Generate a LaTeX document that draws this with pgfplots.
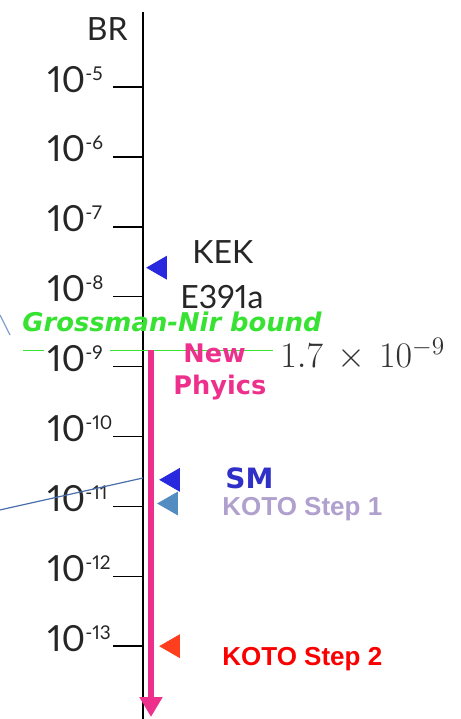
\RequirePackage{fix-cm}
\documentclass[border=0pt]{standalone}
\usepackage{fontspec}
\setmainfont{Lato}[Numbers={Proportional,Lining}]
\newfontfamily\dvsans{DejaVu Sans}
\newfontfamily\lsans{Liberation Sans}
\usepackage{pgfplots}
\pgfplotsset{compat=1.18}
\usetikzlibrary{arrows.meta}

\definecolor{nppink}{RGB}{236,48,140}
\definecolor{gnbound}{RGB}{55,226,50}
\definecolor{kekblue}{RGB}{40,40,222}
\definecolor{smblue}{RGB}{48,48,200}
\definecolor{kotoone}{RGB}{82,140,192}
\definecolor{kotoonetxt}{RGB}{176,160,206}
\definecolor{kototwo}{RGB}{255,62,30}
\definecolor{kototwotxt}{RGB}{250,0,0}
\definecolor{guide}{RGB}{72,110,170}
\definecolor{guidelight}{RGB}{130,160,205}
\definecolor{valgray}{RGB}{50,50,50}

% decade label: 10 with a small raised exponent
\newcommand\dec[1]{10\raisebox{6pt}{\fontsize{9.5}{9.5}\selectfont -#1}}

\begin{document}
\begin{tikzpicture}
\begin{axis}[
  name=ax,
  scale only axis,
  width=230.5pt, height=353.5pt,
  xmin=-143, xmax=318,
  ymode=log, ymin=9.08e-15, ymax=1.183e-4,
  axis x line=none,
  axis y line=center,
  y axis line style={-, line width=0.75pt, black},
  ytick={1e-13,1e-12,1e-11,1e-10,1e-9,1e-8,1e-7,1e-6,1e-5},
  yticklabels={\dec{13},\dec{12},\dec{11},\dec{10},\dec{9},\dec{8},\dec{7},\dec{6},\dec{5}},
  yminorticks=false,
  tick align=outside,
  major tick length=15pt,
  every major tick/.append style={line width=0.75pt, black},
  yticklabel style={anchor=base west, xshift=-33pt, yshift=-2.5pt, inner sep=0pt,
    font=\fontsize{18}{18}\selectfont, text=black!85},
  clip=false,
]
% thin guide lines on the left
\addplot[guide, line width=0.6pt] coordinates {(-143,8.9e-12) (0,2.55e-11)};
\addplot[guidelight, line width=0.6pt] coordinates {(-143,5.47e-9) (-133,2.83e-9)};

% Grossman-Nir bound, broken where the 10^-9 label sits
\addplot[gnbound, line width=0.6pt] coordinates {(-120,1.7e-9) (-99,1.7e-9)};
\addplot[gnbound, line width=0.6pt] coordinates {(-33,1.7e-9) (130,1.7e-9)};

% allowed region for new physics
\addplot[nppink, line width=3pt, -{Triangle[width=11pt,length=10pt]}]
  coordinates {(8,1.7e-9) (8,9.7e-15)};

% measured limit and sensitivities
\addplot[only marks, mark=triangle*, mark size=6.5pt, color=kekblue,
  mark options={rotate=90, draw=none, fill=kekblue}] coordinates {(17,2.6e-8)};
\addplot[only marks, mark=triangle*, mark size=6.5pt, color=kekblue,
  mark options={rotate=90, draw=none, fill=kekblue}] coordinates {(30,2.4e-11)};
\addplot[only marks, mark=triangle*, mark size=6.5pt, color=kotoone,
  mark options={rotate=90, draw=none, fill=kotoone}] coordinates {(28,1.1e-11)};
\addplot[only marks, mark=triangle*, mark size=6.5pt, color=kototwo,
  mark options={rotate=90, draw=none, fill=kototwo}] coordinates {(30,1e-13)};

% annotations
\node[anchor=base east, inner sep=0pt, font=\fontsize{16}{16}\selectfont, text=black!85]
  at (axis cs:-15,4.7e-5) {BR};
\node[anchor=base west, inner sep=0pt, font=\fontsize{16}{16}\selectfont, text=black!85]
  at (axis cs:49,3.03e-8) {KEK};
\node[anchor=base west, inner sep=0pt, font=\fontsize{16}{16}\selectfont, text=black!85]
  at (axis cs:37,6.89e-9) {E391a};
\node[anchor=base west, inner sep=0pt, text depth=0pt,
  font=\dvsans\bfseries\itshape\fontsize{12.9}{13}\selectfont, text=gnbound]
  at (axis cs:-121,3.2e-9) {Grossman-Nir bound};
\node[anchor=base west, inner sep=0pt, font=\dvsans\bfseries\fontsize{12.8}{13}\selectfont, text=nppink]
  at (axis cs:40,1.16e-9) {New};
\node[anchor=base west, inner sep=0pt, font=\dvsans\bfseries\fontsize{12.8}{13}\selectfont, text=nppink]
  at (axis cs:30,3.93e-10) {Phyics};
\node[anchor=base west, inner sep=0pt, font=\fontsize{18}{18}\selectfont, text=valgray]
  at (axis cs:137,9.6e-10) {$1.7\,\times\,10^{-9}$};
\node[anchor=base west, inner sep=0pt, font=\dvsans\bfseries\fontsize{14}{14}\selectfont, text=smblue]
  at (axis cs:82,1.83e-11) {SM};
\node[anchor=base west, inner sep=0pt, font=\lsans\bfseries\fontsize{13}{13}\selectfont, text=kotoonetxt]
  at (axis cs:79,7.53e-12) {KOTO Step 1};
\node[anchor=base west, inner sep=0pt, font=\lsans\bfseries\fontsize{13}{13}\selectfont, text=kototwotxt]
  at (axis cs:79,5.38e-14) {KOTO Step 2};
\end{axis}
\pgfresetboundingbox
\path[use as bounding box] (ax.south west) rectangle ([yshift=6pt]ax.north east);
\end{tikzpicture}
\end{document}
